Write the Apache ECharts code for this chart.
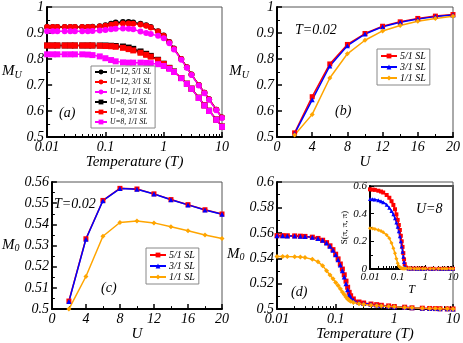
<!DOCTYPE html>
<html>
<head>
<meta charset="utf-8">
<script src="https://cdn.jsdelivr.net/npm/echarts@6/dist/echarts.min.js"></script>
<style>
  html, body { margin: 0; padding: 0; background: #fff; }
  #chart { width: 463px; height: 343px; }
</style>
</head>
<body>
<div id="chart"></div>
<script>
// panel (a): M_U vs temperature
const Ta = [0.01,0.0125,0.015,0.02,0.025,0.03,0.04,0.05,0.06,0.08,0.1,0.125,0.15,0.2,0.25,0.3,0.4,0.5,0.6,0.8,1,1.25,1.5,2,2.5,3,4,5,6,8,10];
const u12_5 = [0.923,0.923,0.923,0.923,0.923,0.923,0.923,0.923,0.924,0.926,0.93,0.936,0.94,0.942,0.942,0.94,0.936,0.93,0.923,0.907,0.89,0.865,0.84,0.80,0.768,0.74,0.70,0.67,0.645,0.605,0.575];
const u12_3 = [0.923,0.923,0.923,0.923,0.923,0.923,0.923,0.923,0.923,0.925,0.928,0.932,0.935,0.937,0.937,0.936,0.933,0.928,0.921,0.906,0.889,0.864,0.839,0.80,0.768,0.74,0.70,0.67,0.645,0.605,0.575];
const u12_1 = [0.907,0.907,0.907,0.907,0.907,0.907,0.907,0.907,0.908,0.91,0.912,0.914,0.916,0.917,0.916,0.914,0.906,0.90,0.896,0.889,0.88,0.861,0.837,0.797,0.766,0.738,0.698,0.668,0.643,0.603,0.573];
const u8_5 = [0.852,0.852,0.852,0.852,0.852,0.852,0.852,0.852,0.852,0.852,0.852,0.851,0.85,0.848,0.844,0.839,0.829,0.82,0.812,0.797,0.782,0.766,0.752,0.727,0.705,0.686,0.651,0.622,0.601,0.567,0.54];
const u8_3 = [0.852,0.852,0.852,0.852,0.852,0.852,0.852,0.852,0.852,0.851,0.85,0.849,0.847,0.843,0.838,0.833,0.824,0.816,0.809,0.795,0.781,0.765,0.751,0.727,0.705,0.686,0.651,0.622,0.601,0.567,0.54];
const u8_1 = [0.818,0.818,0.818,0.818,0.818,0.818,0.818,0.817,0.815,0.81,0.803,0.796,0.791,0.787,0.786,0.786,0.786,0.785,0.784,0.78,0.773,0.762,0.75,0.726,0.704,0.685,0.65,0.621,0.60,0.566,0.539];

// panels (b), (c): values vs U at T=0.02
const U = [2,4,6,8,10,12,14,16,18,20];
const b5 = [0.516,0.655,0.781,0.856,0.898,0.926,0.943,0.956,0.965,0.971];
const b3 = [0.513,0.643,0.773,0.851,0.896,0.924,0.941,0.954,0.963,0.969];
const b1 = [0.508,0.587,0.727,0.82,0.872,0.908,0.929,0.945,0.956,0.964];
const c5 = [0.5038,0.5332,0.5513,0.557,0.5567,0.5544,0.5517,0.5493,0.5469,0.5449];
const c3 = [0.5036,0.533,0.5512,0.5569,0.5566,0.5543,0.5516,0.5492,0.5468,0.5448];
const c1 = [0.5,0.5154,0.5344,0.5409,0.5416,0.5407,0.5389,0.537,0.535,0.5333];

// panel (d) and inset: M_0 and S(pi,pi,pi) vs temperature, U=8
const Td = [0.01,0.0125,0.015,0.02,0.025,0.03,0.04,0.05,0.06,0.07,0.08,0.09,0.1,0.11,0.12,0.13,0.14,0.15,0.16,0.17,0.18,0.2,0.25,0.3,0.4,0.5,0.6,0.8,1,1.5,2,3,4,5,6,8,10];
const d5 = [.5578,.5578,.5577,.5576,.5574,.5572,.5566,.5556,.5542,.5523,.5498,.5468,.5432,.5395,.5355,.5315,.527,.522,.5172,.5132,.5105,.508,.5056,.5048,.504,.5035,.503,.5025,.502,.5015,.501,.5007,.5005,.5004,.5003,.5002,.5001];
const d3 = [.5577,.5577,.5576,.5575,.5573,.5571,.5565,.5555,.5541,.5521,.5495,.5464,.5427,.5388,.5346,.5302,.5252,.52,.5152,.5115,.5092,.5072,.5052,.5045,.5038,.5033,.5028,.5023,.5019,.5014,.501,.5007,.5005,.5004,.5003,.5002,.5001];
const d1 = [.5414,.5414,.5413,.5412,.541,.5405,.5393,.5372,.5342,.5302,.5268,.5238,.521,.5185,.516,.5135,.5115,.5095,.508,.507,.5062,.5052,.5042,.5036,.503,.5027,.5025,.502,.5018,.5013,.501,.5007,.5005,.5004,.5003,.5002,.5001];
const s5 = [.576,.574,.572,.566,.56,.553,.535,.515,.49,.463,.432,.395,.355,.318,.282,.24,.2,.16,.115,.07,.035,.01,.004,.003,.003,.002,.002,.002,.002,.001,.001,.001,.001,.001,.001,.001,.001];
const s3 = [.506,.505,.503,.497,.49,.483,.465,.443,.42,.395,.367,.337,.306,.272,.236,.2,.163,.125,.088,.05,.022,.008,.004,.003,.003,.002,.002,.002,.002,.001,.001,.001,.001,.001,.001,.001,.001];
const s1 = [.294,.292,.29,.282,.274,.265,.246,.222,.188,.15,.113,.075,.041,.022,.012,.007,.005,.004,.004,.003,.003,.003,.003,.003,.002,.002,.002,.002,.002,.001,.001,.001,.001,.001,.001,.001,.001];

const FONT = 'Liberation Serif';
const RED = '#ff0000', BLUE = '#0000ff', ORANGE = '#ffa500', MAG = '#ff00ff';

const zip = (xs, ys) => xs.map((x, i) => [x, ys[i]]);

const subName = (padTop) => ({
  padding: [padTop || 0, 0, 0, 0],
  rich: {
    m: { fontFamily: FONT, fontStyle: 'italic', fontSize: 15, color: '#000', verticalAlign: 'top' },
    s: { fontFamily: FONT, fontStyle: 'italic', fontSize: 10, color: '#000', verticalAlign: 'bottom', padding: [6, 0, 0, 0] }
  }
});

function axis(gridIndex, extra, labelSize) {
  return Object.assign({
    gridIndex,
    axisLine: { lineStyle: { color: '#000', width: 2 } },
    axisTick: { inside: true, length: 5, lineStyle: { color: '#000', width: 1.5 } },
    minorTick: { show: true, splitNumber: 2, length: 3, lineStyle: { color: '#000', width: 1 } },
    splitLine: { show: false },
    axisLabel: { fontFamily: FONT, fontStyle: 'italic', fontSize: labelSize || 14, color: '#000', margin: 3 },
    nameTextStyle: { fontFamily: FONT, fontStyle: 'italic', fontSize: 15, color: '#000' }
  }, extra);
}

const logAxis = (g, extra, size) => axis(g, Object.assign({
  type: 'log', logBase: 10, min: 0.01, max: 10,
  minorTick: { show: true, splitNumber: 9, length: 3, lineStyle: { color: '#000', width: 1 } }
}, extra), size);

function line(name, xi, yi, data, color, symbol, size) {
  return {
    name, type: 'line', xAxisIndex: xi, yAxisIndex: yi, data,
    symbol, symbolSize: size, showSymbol: true,
    lineStyle: { color, width: 1.5 }, itemStyle: { color },
    animation: false
  };
}

const legendBase = (left, top, gap, size, width, data) => ({
  orient: 'vertical', left, top, data,
  itemWidth: width, itemHeight: 6, itemGap: gap,
  padding: [2, 4, 2, 3],
  backgroundColor: '#fff', borderColor: '#888', borderWidth: 1,
  textStyle: { fontFamily: FONT, fontStyle: 'italic', fontSize: size, color: '#000', padding: [0, 0, 0, -2] }
});

const txt = (left, top, text, size) => ({
  type: 'text', left, top,
  style: { text, font: 'italic ' + size + 'px "' + FONT + '"', fill: '#000' }
});

const chart = echarts.init(document.getElementById('chart'));
chart.setOption({
  animation: false,
  grid: [
    { left: 42, top: 4, width: 180, height: 133, show: true, borderColor: '#555', borderWidth: 1 },
    { left: 277, top: 5, width: 179, height: 132, show: true, borderColor: '#555', borderWidth: 1 },
    { left: 42, top: 182, width: 180, height: 133, show: true, borderColor: '#555', borderWidth: 1 },
    { left: 277, top: 182, width: 178, height: 133, show: true, borderColor: '#555', borderWidth: 1 },
    { left: 370, top: 186, width: 83, height: 83, show: true, backgroundColor: '#fff', borderColor: '#555', borderWidth: 2 }
  ],
  xAxis: [
    logAxis(0, { name: 'Temperature (T)', nameLocation: 'middle', nameGap: 11 }),
    axis(1, { type: 'value', min: 0, max: 20, interval: 4, name: 'U', nameLocation: 'middle', nameGap: 6 }),
    axis(2, { type: 'value', min: 0, max: 20, interval: 4, name: 'U', nameLocation: 'middle', nameGap: 10 }),
    logAxis(3, { name: 'Temperature (T)', nameLocation: 'middle', nameGap: 13 }),
    logAxis(4, { name: 'T', nameLocation: 'middle', nameGap: 11,
      nameTextStyle: { fontFamily: FONT, fontStyle: 'italic', fontSize: 12, color: '#000' },
      axisTick: { inside: true, length: 4, lineStyle: { color: '#000', width: 1 } } }, 11)
  ],
  yAxis: [
    axis(0, { type: 'value', min: 0.5, max: 1, interval: 0.1, name: '{m|M}{s|U}', nameLocation: 'middle', nameRotate: 0, nameGap: 25, nameTextStyle: subName() }),
    axis(1, { type: 'value', min: 0.5, max: 1, interval: 0.1, name: '{m|M}{s|U}', nameLocation: 'middle', nameRotate: 0, nameGap: 28, nameTextStyle: subName() }),
    axis(2, { type: 'value', min: 0.5, max: 0.56, interval: 0.01, name: '{m|M}{s|0}', nameLocation: 'middle', nameRotate: 0, nameGap: 27, nameTextStyle: subName() }),
    axis(3, { type: 'value', min: 0.5, max: 0.6, interval: 0.02, name: '{m|M}{s|0}', nameLocation: 'middle', nameRotate: 0, nameGap: 27, nameTextStyle: subName(18) }),
    axis(4, { type: 'value', min: 0, max: 0.6, interval: 0.2, name: 'S(π, π, π)', nameLocation: 'middle', nameGap: 18,
      nameTextStyle: { fontFamily: FONT, fontSize: 9, color: '#000' },
      axisTick: { inside: true, length: 4, lineStyle: { color: '#000', width: 1 } } }, 11)
  ],
  legend: [
    legendBase(91, 66, 2, 7.5, 12, ['U=12, 5/1 SL', 'U=12, 3/1 SL', 'U=12, 1/1 SL', 'U=8, 5/1 SL', 'U=8, 3/1 SL', 'U=8, 1/1 SL']),
    legendBase(377, 49, 1, 10, 16, ['5/1 SL', '3/1 SL', '1/1 SL']),
    legendBase(146, 248, 1, 10, 16, ['5/1 SL', '3/1 SL', '1/1 SL'])
  ],
  graphic: [
    txt(59, 106, '(a)', 14),
    txt(335, 104, '(b)', 14),
    txt(101, 281, '(c)', 14),
    txt(291, 285, '(d)', 14),
    txt(295, 23, 'T=0.02', 14),
    txt(54, 197, 'T=0.02', 14),
    txt(416, 202, 'U=8', 14)
  ],
  series: [
    line('U=12, 5/1 SL', 0, 0, zip(Ta, u12_5), '#000', 'circle', 6),
    line('U=12, 3/1 SL', 0, 0, zip(Ta, u12_3), RED, 'circle', 6),
    line('U=12, 1/1 SL', 0, 0, zip(Ta, u12_1), MAG, 'circle', 6),
    line('U=8, 5/1 SL', 0, 0, zip(Ta, u8_5), '#000', 'rect', 6),
    line('U=8, 3/1 SL', 0, 0, zip(Ta, u8_3), RED, 'rect', 6),
    line('U=8, 1/1 SL', 0, 0, zip(Ta, u8_1), MAG, 'rect', 6),

    line('5/1 SL', 1, 1, zip(U, b5), RED, 'rect', 5),
    line('3/1 SL', 1, 1, zip(U, b3), BLUE, 'triangle', 5),
    line('1/1 SL', 1, 1, zip(U, b1), ORANGE, 'diamond', 5),

    line('5/1 SL', 2, 2, zip(U, c5), RED, 'rect', 5),
    line('3/1 SL', 2, 2, zip(U, c3), BLUE, 'triangle', 5),
    line('1/1 SL', 2, 2, zip(U, c1), ORANGE, 'diamond', 5),

    line('5/1 SL', 3, 3, zip(Td, d5), RED, 'rect', 5),
    line('3/1 SL', 3, 3, zip(Td, d3), BLUE, 'triangle', 5),
    line('1/1 SL', 3, 3, zip(Td, d1), ORANGE, 'diamond', 5),

    line('5/1 SL', 4, 4, zip(Td, s5), RED, 'rect', 4),
    line('3/1 SL', 4, 4, zip(Td, s3), BLUE, 'triangle', 4),
    line('1/1 SL', 4, 4, zip(Td, s1), ORANGE, 'diamond', 4)
  ]
});
</script>
</body>
</html>
